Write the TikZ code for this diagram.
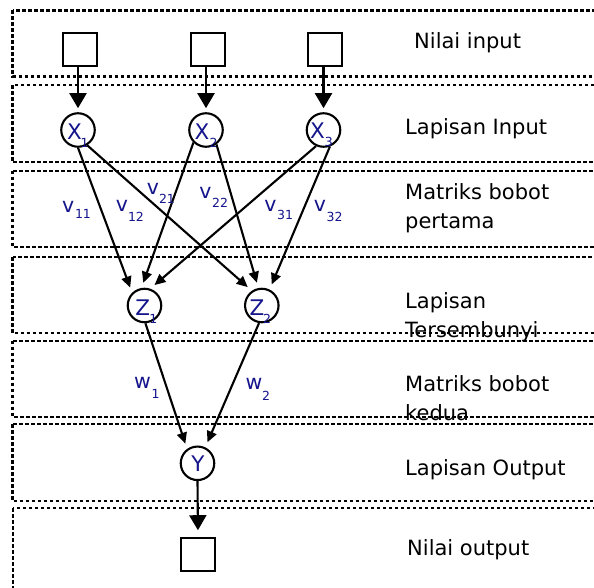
\documentclass[tikz,border=0pt]{standalone}
\usepackage{fontspec}
\setmainfont{DejaVu Sans}
\usetikzlibrary{arrows.meta}
\definecolor{ink}{RGB}{20,20,140}
\begin{document}
\begin{tikzpicture}[x=1pt,y=-1pt,
  band/.style={draw, line width=2.1pt, dash pattern=on 3.6pt off 2.4pt},
  unit/.style={circle, draw, line width=2.1pt, minimum size=33.5pt, inner sep=0pt},
  cell/.style={rectangle, draw, line width=2.1pt, minimum size=33.5pt, inner sep=0pt},
  feed/.style={-{Triangle[length=15pt,width=17pt]}, line width=2.1pt, shorten >=4pt},
  link/.style={-{Triangle[length=11pt,width=10pt]}, line width=2.1pt, shorten >=5.5pt},
  ltr/.style={text=ink, font=\fontsize{21.5}{21.5}\selectfont, inner sep=0pt, text height=15.7pt, text depth=0pt},
  wt/.style={text=ink, font=\fontsize{20.5}{20.5}\selectfont, inner sep=0pt, text height=11.2pt, text depth=0pt},
  sb/.style={text=ink, font=\fontsize{12.5}{12.5}\selectfont, inner sep=0pt, text height=9.1pt, text depth=0pt},
  side/.style={font=\fontsize{21}{28.5}\selectfont, inner sep=0pt, anchor=base west, align=left}
]
\useasboundingbox (0,0) rectangle (594,588);
\clip (0,0) rectangle (594,588);

% layer bands
\draw[band] (12.5,10.5) rectangle (610,76.5);
\draw[band] (12.5,85) rectangle (610,162.3);
\draw[band] (12.5,170.7) rectangle (610,247.3);
\draw[band] (12.5,257.3) rectangle (610,333.3);
\draw[band] (12.5,340.7) rectangle (610,417.3);
\draw[band] (12.5,424) rectangle (610,500.7);
\draw[band] (13.3,508.3) rectangle (610,620);

% input values
\node[cell] (in1) at (80,49.5) {};
\node[cell] (in2) at (208,49.5) {};
\node[cell] (in3) at (325,49.5) {};

% units
\node[unit] (X1) at (78,130) {};
\node[unit] (X2) at (206,130) {};
\node[unit] (X3) at (323.5,130) {};
\node[unit] (Z1) at (144.5,305.5) {};
\node[unit] (Z2) at (261.8,305.5) {};
\node[unit] (Y) at (197.5,463.3) {};

% output value
\node[cell] (out) at (198,554.5) {};

% unit names
\node[ltr] (X1t) at (74.5,131.8) {X};
\node[sb] (X1s) at (84.5,142.5) {1};
\node[ltr] (X2t) at (202,131.2) {X};
\node[sb] (X2s) at (213.7,142.5) {2};
\node[ltr] (X3t) at (317.5,130.8) {X};
\node[sb] (X3s) at (328.8,142) {3};
\node[ltr] (Z1t) at (142.7,307.5) {Z};
\node[sb] (Z1s) at (153.3,319) {1};
\node[ltr] (Z2t) at (257,307.5) {Z};
\node[sb] (Z2s) at (267,319) {2};
\node[ltr] (Yt) at (198,464) {Y};

% connections
\draw[feed] (X1 |- in1.south) -- (X1.north);
\draw[feed] (X2 |- in2.south) -- (X2.north);
\draw[feed] (X3 |- in3.south) -- (X3.north);
\draw[link] (X1.270) -- (Z1.134);
\draw[link] (X2.225) -- (Z1.100);
\draw[link] (X3.245) -- (Z1.71);
\draw[link] (X1.301) -- (Z2.124.5);
\draw[link] (X2.306) -- (Z2.101);
\draw[link] (X3.291) -- (Z2.64);
\draw[link] (Z1.273) -- (Y.126);
\draw[link] (Z2.261) -- (Y.64);
\draw[feed, shorten >=6.5pt] (Y.south) -- (out.north);

% weights
\node[wt] (v11) at (68.3,206.7) {v};
\node[sb] (v11s) at (83,214.2) {11};
\node[wt] (v12) at (122,206) {v};
\node[sb] (v12s) at (136,216.5) {12};
\node[wt] (v21) at (153,189) {v};
\node[sb] (v21s) at (167,199) {21};
\node[wt] (v22) at (205.5,192.5) {v};
\node[sb] (v22s) at (220,203) {22};
\node[wt] (v31) at (270.5,206) {v};
\node[sb] (v31s) at (285,215) {31};
\node[wt] (v32) at (320,205.5) {v};
\node[sb] (v32s) at (334.5,216.5) {32};
\node[wt] (w1) at (142.5,383) {w};
\node[sb] (w1s) at (155.5,394) {1};
\node[wt] (w2) at (254,384) {w};
\node[sb] (w2s) at (266,396) {2};

% layer captions (multi-line captions are placed by their last baseline)
\node[side] (capA) at (414,49) {Nilai input};
\node[side] (capB) at (405,135) {Lapisan Input};
\node[side] (capC) at (405,228) {Matriks bobot\\pertama};
\node[side] (capD) at (405,337) {Lapisan\\Tersembunyi};
\node[side] (capE) at (405,420) {Matriks bobot\\kedua};
\node[side] (capF) at (405,475) {Lapisan Output};
\node[side] (capG) at (407,555) {Nilai output};
\end{tikzpicture}
\end{document}
